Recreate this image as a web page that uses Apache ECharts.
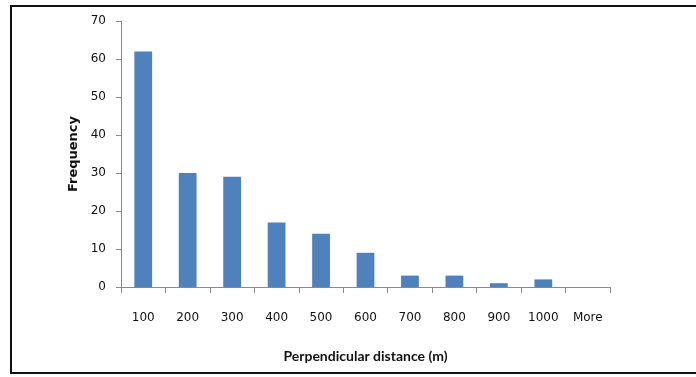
<!DOCTYPE html>
<html>
<head>
<meta charset="utf-8">
<script src="https://cdn.jsdelivr.net/npm/echarts@6/dist/echarts.min.js"></script>
<style>html,body{margin:0;padding:0;background:#fff}#c{width:696px;height:377px}</style>
</head>
<body>
<div id="c"></div>
<script>
var categories = ['100','200','300','400','500','600','700','800','900','1000','More'];
var frequency = [62, 30, 29, 17, 14, 9, 3, 3, 1, 2, 0];
var yTicks = {min: 0, max: 70, interval: 10};

var chart = echarts.init(document.getElementById('c'), null, {renderer: 'canvas'});
chart.setOption({
  animation: false,
  backgroundColor: '#fff',
  graphic: [{
    type: 'rect',
    shape: {x: 11, y: 6, width: 700, height: 367},
    style: {fill: 'none', stroke: '#111', lineWidth: 2},
    silent: true
  }],
  grid: {left: 121, right: 86, top: 21, bottom: 90},
  xAxis: {
    type: 'category',
    data: categories,
    name: 'Perpendicular distance (m)',
    nameLocation: 'middle',
    nameGap: 62,
    nameTextStyle: {fontFamily: 'Lato', fontWeight: 'bold', fontSize: 14, color: '#111'},
    axisLine: {lineStyle: {color: '#8a8a8a', width: 1}},
    axisTick: {show: true, length: 6, alignWithLabel: false, lineStyle: {color: '#8a8a8a'}},
    axisLabel: {margin: 25, fontFamily: 'DejaVu Sans', fontSize: 12, color: '#111', interval: 0}
  },
  yAxis: {
    type: 'value',
    min: yTicks.min, max: yTicks.max, interval: yTicks.interval,
    name: 'Frequency',
    nameLocation: 'middle',
    nameGap: 41,
    nameRotate: 90,
    nameTextStyle: {fontFamily: 'DejaVu Sans', fontWeight: 'bold', fontSize: 13, color: '#111'},
    axisLine: {show: true, lineStyle: {color: '#8a8a8a', width: 1}},
    axisTick: {show: true, length: 5, lineStyle: {color: '#8a8a8a'}},
    splitLine: {show: false},
    axisLabel: {margin: 15, fontFamily: 'DejaVu Sans', fontSize: 12, color: '#111'}
  },
  series: [{
    type: 'bar',
    data: frequency,
    barWidth: '40%',
    itemStyle: {color: '#4F81BD'}
  }]
});
</script>
</body>
</html>
